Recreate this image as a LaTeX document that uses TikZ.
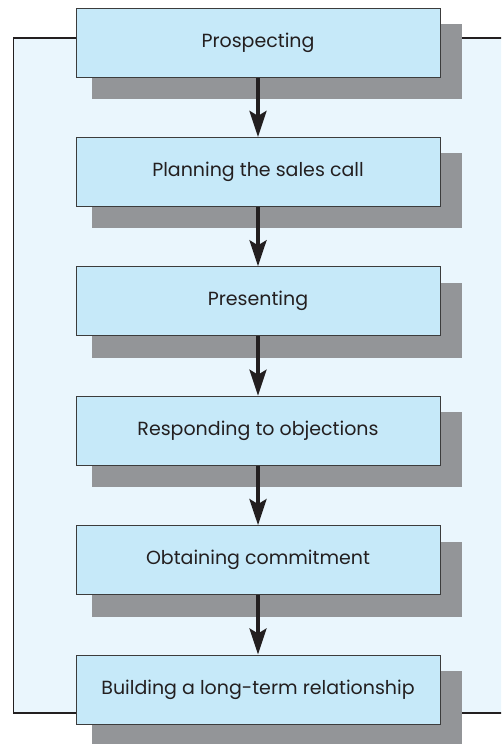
\documentclass[tikz,border=0pt]{standalone}
\usepackage{fontspec}
\setmainfont{Poppins}
\usetikzlibrary{arrows.meta,calc}
\definecolor{framefill}{HTML}{EAF6FD}
\definecolor{boxfill}{HTML}{C6E9F9}
\definecolor{shadowgray}{HTML}{939598}
\definecolor{boxline}{HTML}{3C3C3C}
\definecolor{textcol}{HTML}{231F20}
\tikzset{
  stepbox/.style={draw=boxline, line width=1pt, fill=boxfill, minimum width=364pt, minimum height=69pt, inner sep=0pt, font=\fontsize{19}{22}\selectfont, text=textcol},
  flow/.style={line width=3.5pt, draw=textcol, -{Stealth[length=26pt,width=17pt,inset=5pt]}, shorten >=0pt}
}
\begin{document}
\begin{tikzpicture}[x=1pt,y=-1pt]
\useasboundingbox (0,0) rectangle (501,744);
\begin{scope}
\clip (0,0) rectangle (501,744);
\draw[fill=framefill, draw=textcol, line width=1.3pt] (13.5,38) rectangle (530,713);
\foreach \i/\t/\txt in {1/8/Prospecting, 2/137.4/Planning the sales call, 3/266.8/Presenting, 4/396.2/Responding to objections, 5/525.6/Obtaining commitment, 6/655/Building a long-term relationship}{
  \fill[shadowgray] (92,\t+16) rectangle (462,\t+91);
  \node[stepbox] (b\i) at (258,\t+34.5) {\txt};
}
\end{scope}
\foreach \a/\b in {1/2,2/3,3/4,4/5,5/6}{
  \draw[flow] (b\a.south) -- (b\b.north);
}
\end{tikzpicture}
\end{document}
